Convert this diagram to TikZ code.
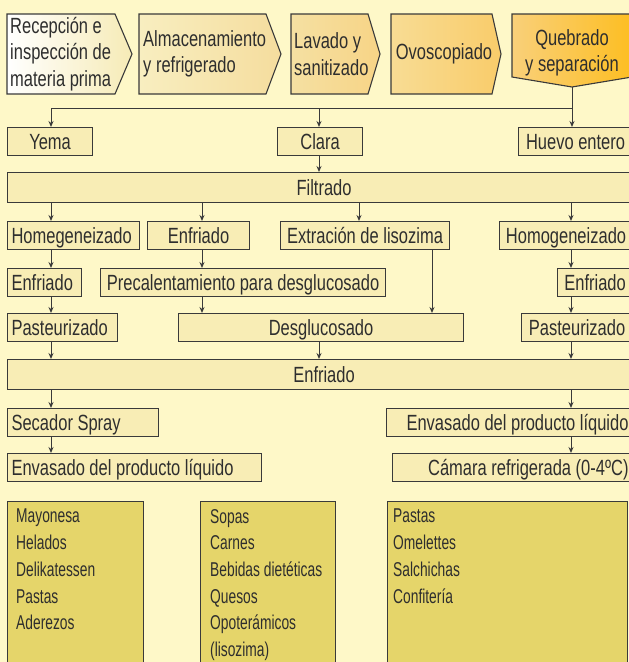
\documentclass[tikz,border=0pt]{standalone}
\usepackage{fontspec}
\setmainfont{Liberation Sans}[FakeStretch=0.75]
\newfontfamily\listfam{Liberation Sans}[FakeStretch=0.69]
\usetikzlibrary{arrows.meta}
\definecolor{bgc}{HTML}{FEF8C8}
\definecolor{linec}{HTML}{3A3A3A}
\definecolor{textc}{HTML}{2E2E2E}
\definecolor{procfill}{HTML}{F8EDB5}
\definecolor{prodfill}{HTML}{E5D56A}
\definecolor{chevA}{HTML}{F6EBB6}
\definecolor{chevB}{HTML}{F8EEC0}
\definecolor{chevC}{HTML}{F5DD9E}
\definecolor{chevD}{HTML}{F5E0A2}
\definecolor{chevE}{HTML}{F7D486}
\definecolor{chevF}{HTML}{F8DC94}
\definecolor{chevG}{HTML}{F9CC6A}
\definecolor{chevH}{HTML}{F9D07A}
\definecolor{chevI}{HTML}{FDBE22}
\newcommand\boxfont{\fontsize{22}{26.5}\selectfont}
\newcommand\listfont{\listfam\fontsize{20}{26.7}\selectfont}

\begin{document}
\begin{tikzpicture}[x=1pt,y=-1pt, every node/.style={font=\boxfont,text=textc},
  proc/.style={draw=linec,fill=procfill,line width=1.1pt,anchor=north west,minimum height=28,
    inner xsep=4pt,inner ysep=0pt,text height=15.75pt,text depth=0.5pt},
  bar/.style={proc,minimum height=30,minimum width=633},
  prod/.style={draw=linec,fill=prodfill,line width=1.1pt,anchor=north west,minimum height=175},
  chev/.style={draw=linec,line width=1.1pt},
  flow/.style={draw=linec,line width=1pt,-{Stealth[length=6pt,width=5pt]}},
  line/.style={draw=linec,line width=1pt}]
\useasboundingbox (0,0) rectangle (629,662);
\fill[bgc] (0,0) rectangle (629,662);

% etapas iniciales
\draw[chev,left color=white,right color=chevA] (7,14) -- (115,14) -- (132,54) -- (115,94) -- (7,94) -- cycle;
\draw[chev,left color=chevB,right color=chevC] (139,14) -- (266,14) -- (281,54) -- (266,94) -- (139,94) -- cycle;
\draw[chev,left color=chevD,right color=chevE] (291,14) -- (368,14) -- (380,54) -- (368,94) -- (291,94) -- cycle;
\draw[chev,left color=chevF,right color=chevG] (391,14) -- (492,14) -- (501,54) -- (492,94) -- (391,94) -- cycle;
\draw[chev,left color=chevH,right color=chevI] (512,14) -- (632,14) -- (632,77) -- (572,87) -- (512,77) -- cycle;
\node[anchor=west,align=left,inner xsep=3pt] (recep) at (7,54) {Recepción e\\inspección de\\materia prima};
\node[anchor=west,align=left,inner xsep=3pt] (almac) at (140,54) {Almacenamiento\\y refrigerado};
\node[anchor=west,align=left,inner xsep=3pt] (lavado) at (291,54) {Lavado y\\sanitizado};
\node (ovosc) at (444,54) {Ovoscopiado};
\node[align=center] (quebr) at (572,53) {Quebrado\\y separación};
\coordinate (qtip) at (572,87);
\coordinate (split) at (51,108);

% columnas de flechas
\coordinate (cA) at (51,0);
\coordinate (cB) at (202,0);
\coordinate (cC) at (359,0);
\coordinate (cD) at (571,0);
\coordinate (cE) at (432,0);
\coordinate (cF) at (319,0);

% separacion
\node[proc,minimum width=85] (yema) at (7,127) {Yema};
\node[proc,minimum width=85] (clara) at (277,127) {Clara};
\node[proc,minimum width=114] (huevo) at (518,127) {Huevo entero};
\node[bar] (filtrado) at (7,172) {Filtrado};

% lineas de proceso
\node[proc,text width=124pt,align=flush left] (homL) at (7,221) {Homegeneizado};
\node[proc,minimum width=102] (enfM) at (147,221) {Enfriado};
\node[proc,minimum width=169] (extr) at (280,221) {Extración de lisozima};
\node[proc,minimum width=133] (homR) at (499,221) {Homogeneizado};
\node[proc,text width=66pt,align=flush left] (enfL) at (7,268) {Enfriado};
\node[proc,minimum width=285] (precal) at (100,268) {Precalentamiento para desglucosado};
\node[proc,minimum width=75] (enfR) at (557,268) {Enfriado};
\node[proc,text width=102pt,align=flush left] (pastL) at (7,313) {Pasteurizado};
\node[proc,minimum width=285] (desgl) at (178,313) {Desglucosado};
\node[proc,minimum width=111] (pastR) at (521,313) {Pasteurizado};
\node[bar] (enfriado) at (7,359) {Enfriado};
\node[proc,text width=143pt,align=flush left] (secador) at (7,408) {Secador Spray};
\node[proc,text width=238pt,align=flush right] (envR) at (386,408) {Envasado del producto líquido};
\node[proc,text width=246pt,align=flush left] (envL) at (7,453) {Envasado del producto líquido};
\node[proc,text width=232pt,align=flush right] (camara) at (392,453) {Cámara refrigerada (0-4ºC)};

% usos
\node[prod,minimum width=136] (usosA) at (7,501) {};
\node[prod,minimum width=135] (usosB) at (200,501) {};
\node[prod,minimum width=240] (usosC) at (387,501) {};
\node[anchor=north west,align=left,inner sep=0pt,font=\listfont] (listaA) at (16,509) {Mayonesa\\Helados\\Delikatessen\\Pastas\\Aderezos};
\node[anchor=north west,align=left,inner sep=0pt,font=\listfont] (listaB) at (210,509) {Sopas\\Carnes\\Bebidas dietéticas\\Quesos\\Opoterámicos\\(lisozima)};
\node[anchor=north west,align=left,inner sep=0pt,font=\listfont] (listaC) at (393,509) {Pastas\\Omelettes\\Salchichas\\Confitería};

% conectores
\draw[line] (split) -- (qtip |- split);
\draw[flow] (qtip) -- (qtip |- huevo.north);
\draw[flow] (split) -- (split |- yema.north);
\draw[flow] (cF |- split) -- (cF |- clara.north);
\draw[flow] (cF |- clara.south) -- (cF |- filtrado.north);
\draw[flow] (cA |- filtrado.south) -- (cA |- homL.north);
\draw[flow] (cB |- filtrado.south) -- (cB |- enfM.north);
\draw[flow] (cC |- filtrado.south) -- (cC |- extr.north);
\draw[flow] (cD |- filtrado.south) -- (cD |- homR.north);
\draw[flow] (cA |- homL.south) -- (cA |- enfL.north);
\draw[flow] (cB |- enfM.south) -- (cB |- precal.north);
\draw[flow] (cD |- homR.south) -- (cD |- enfR.north);
\draw[flow] (cA |- enfL.south) -- (cA |- pastL.north);
\draw[flow] (cB |- precal.south) -- (cB |- desgl.north);
\draw[flow] (cE |- extr.south) -- (cE |- desgl.north);
\draw[flow] (cD |- enfR.south) -- (cD |- pastR.north);
\draw[flow] (cA |- pastL.south) -- (cA |- enfriado.north);
\draw[flow] (cF |- desgl.south) -- (cF |- enfriado.north);
\draw[flow] (cD |- pastR.south) -- (cD |- enfriado.north);
\draw[flow] (cA |- enfriado.south) -- (cA |- secador.north);
\draw[flow] (cD |- enfriado.south) -- (cD |- envR.north);
\draw[flow] (cA |- secador.south) -- (cA |- envL.north);
\draw[flow] (cD |- envR.south) -- (cD |- camara.north);
\end{tikzpicture}
\end{document}
